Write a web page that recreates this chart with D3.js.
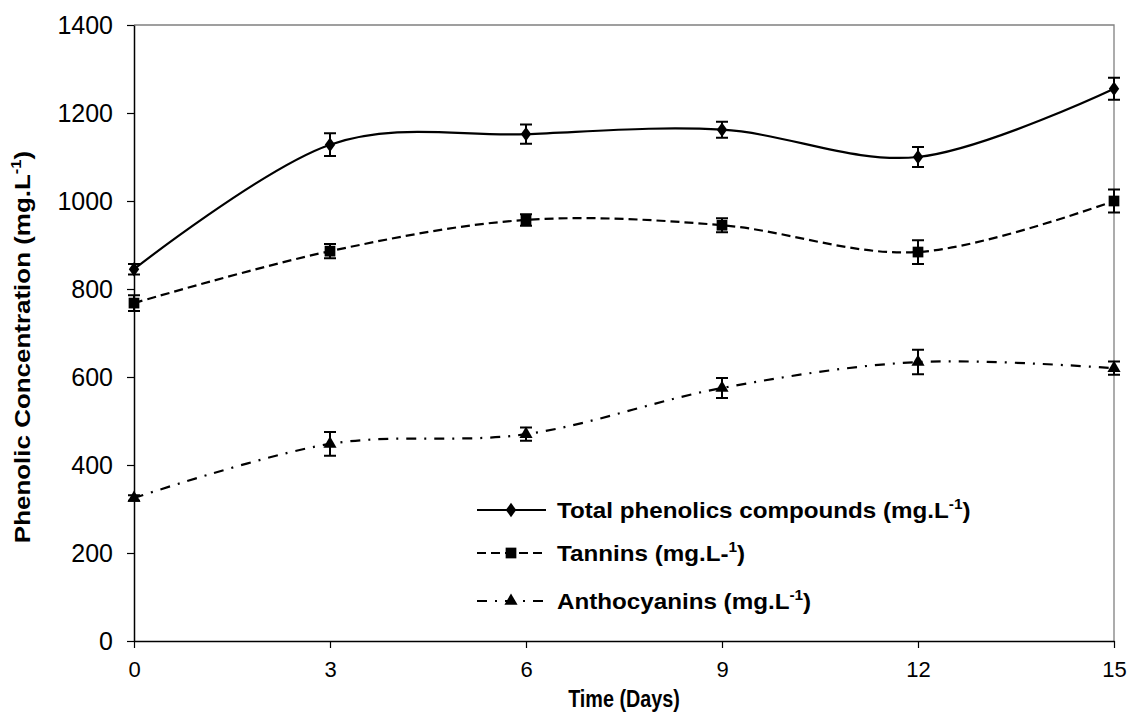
<!DOCTYPE html>
<html lang="en">
<head>
<meta charset="UTF-8">
<title>Phenolic Concentration</title>
<script src="https://cdn.jsdelivr.net/npm/d3@7"></script>
<style>
  body { margin: 0; background: #fff; }
  text { font-family: Arial, "Liberation Sans", sans-serif; fill: #000; }
</style>
</head>
<body>
<svg id="chart" width="1130" height="726"></svg>
<script>
// data
var days = [0, 3, 6, 9, 12, 15];
var totalPhenolics = [845, 1128, 1152, 1162, 1100, 1255];
var totalErr = [12, 26, 22, 18, 23, 25];
var tannins = [768, 886, 957, 945, 884, 1000];
var tanninsErr = [18, 16, 13, 16, 27, 26];
var anthocyanins = [325, 448, 470, 575, 634, 620];
var anthoErr = [6, 27, 15, 23, 28, 15];
var yTicks = [0, 200, 400, 600, 800, 1000, 1200, 1400];

var svg = d3.select("#chart");
var pLeft = 134, pRight = 1114, pTop = 25, pBottom = 641;

var x = d3.scaleLinear().domain([0, 15]).range([pLeft, pRight]);
var y = d3.scaleLinear().domain([0, 1400]).range([pBottom, pTop]);

var series = [
  {name: "Total phenolics compounds (mg.L", sup: "-1", vals: totalPhenolics, err: totalErr, dash: null, sym: d3.symbolDiamond, size: 60},
  {name: "Tannins (mg.L-", sup: "1", vals: tannins, err: tanninsErr, dash: "9,5", sym: d3.symbolSquare, size: 115},
  {name: "Anthocyanins (mg.L", sup: "-1", vals: anthocyanins, err: anthoErr, dash: "10,8,2,8", sym: d3.symbolTriangle, size: 75}
];

// plot frame (grey top and right)
svg.append("path")
  .attr("d", "M" + pLeft + "," + pTop + "H" + pRight + "V" + pBottom)
  .attr("fill", "none").attr("stroke", "#808080").attr("stroke-width", 1.3);

// axes
var xAxis = svg.append("g").attr("transform", "translate(0," + pBottom + ")")
  .call(d3.axisBottom(x).tickValues(days).tickFormat(d3.format("d")).tickSize(7).tickSizeOuter(0));
var yAxis = svg.append("g").attr("transform", "translate(" + pLeft + ",0)")
  .call(d3.axisLeft(y).tickValues(yTicks).tickFormat(d3.format("d")).tickSize(7).tickSizeOuter(0));
[xAxis, yAxis].forEach(function(a) {
  a.select(".domain").attr("stroke", "#000").attr("stroke-width", 1.5);
  a.selectAll(".tick line").attr("stroke", "#000").attr("stroke-width", 1.2);
  a.selectAll("text").attr("fill", "#000");
});
xAxis.selectAll("text").style("font-size", "22px").attr("dy", "1.2em");
yAxis.selectAll("text").style("font-size", "25px").attr("x", -21).attr("dy", "0.35em");

svg.append("text")
  .attr("transform", "translate(624,707) scale(0.86,1)")
  .attr("text-anchor", "middle").style("font-size", "23px").style("font-weight", "bold")
  .text("Time (Days)");

var yt = svg.append("text")
  .attr("transform", "translate(30,347) rotate(-90) scale(1.18,1)")
  .attr("text-anchor", "middle").style("font-size", "22px").style("font-weight", "bold");
yt.append("tspan").text("Phenolic Concentration (mg.L");
yt.append("tspan").attr("dy", -9).style("font-size", "14px").text("-1");
yt.append("tspan").attr("dy", 9).text(")");

var line = d3.line().curve(d3.curveCatmullRom.alpha(0))
  .x(function(d, i) { return x(days[i]); })
  .y(function(d) { return y(d); });

series.forEach(function(s) {
  svg.append("path").datum(s.vals)
    .attr("d", line).attr("fill", "none").attr("stroke", "#000")
    .attr("stroke-width", 2.2).attr("stroke-dasharray", s.dash);

  var g = svg.append("g");
  s.vals.forEach(function(v, i) {
    var cx = x(days[i]);
    var lo = y(v - s.err[i]), hi = y(v + s.err[i]);
    g.append("path")
      .attr("d", "M" + cx + "," + lo + "V" + hi +
        "M" + (cx - 6) + "," + hi + "H" + (cx + 6) +
        "M" + (cx - 6) + "," + lo + "H" + (cx + 6))
      .attr("stroke", "#000").attr("stroke-width", 2).attr("fill", "none");
    g.append("path")
      .attr("d", d3.symbol().type(s.sym).size(s.size))
      .attr("transform", "translate(" + cx + "," + y(v) + ")" + (s.sym === d3.symbolDiamond ? " scale(1.25,1)" : ""))
      .attr("fill", "#000");
  });
});

// legend
var legY = [510, 553, 601];
series.forEach(function(s, i) {
  var ly = legY[i];
  svg.append("line").attr("x1", 477).attr("x2", 546).attr("y1", ly).attr("y2", ly)
    .attr("stroke", "#000").attr("stroke-width", 2.2).attr("stroke-dasharray", s.dash);
  svg.append("path").attr("d", d3.symbol().type(s.sym).size(s.size))
    .attr("transform", "translate(511," + ly + ")" + (s.sym === d3.symbolDiamond ? " scale(1.25,1)" : ""))
    .attr("fill", "#000");
  var t = svg.append("text")
    .attr("transform", "translate(557," + (ly + 8) + ") scale(1.1,1)")
    .style("font-size", "22px").style("font-weight", "bold");
  t.append("tspan").text(s.name);
  t.append("tspan").attr("dy", -9).style("font-size", "14px").text(s.sup);
  t.append("tspan").attr("dy", 9).text(")");
});
</script>
</body>
</html>
